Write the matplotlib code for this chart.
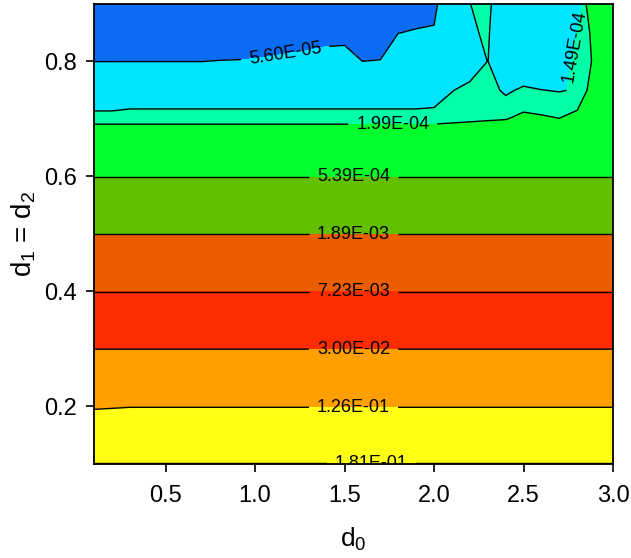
import numpy as np
import matplotlib
matplotlib.use("Agg")
import matplotlib.pyplot as plt

plt.rcParams['font.family'] = ['Liberation Sans', 'DejaVu Sans']
plt.rcParams['mathtext.fontset'] = 'custom'
plt.rcParams['mathtext.rm'] = 'Liberation Sans'
plt.rcParams['mathtext.it'] = 'Liberation Sans'
plt.rcParams['contour.negative_linestyle'] = 'solid'

# grid of the map
d0 = [0.1, 0.2, 0.3, 0.4, 0.5, 0.6, 0.7, 0.8, 0.9, 1.0,
      1.1, 1.2, 1.3, 1.4, 1.5, 1.6, 1.7, 1.8, 1.9, 2.0,
      2.1, 2.2, 2.3, 2.4, 2.5, 2.6, 2.7, 2.8, 2.9, 3.0]
d1 = [0.1, 0.2, 0.3, 0.4, 0.5, 0.6, 0.65, 0.7, 0.75, 0.8, 0.85, 0.9]

# log10 of the mapped value, one list per d1 row (columns follow d0)
r010 = [-0.741, -0.741, -0.741, -0.741, -0.741, -0.741, -0.741, -0.741, -0.741, -0.741,
        -0.741, -0.741, -0.741, -0.741, -0.741, -0.741, -0.741, -0.741, -0.741, -0.741,
        -0.741, -0.741, -0.741, -0.741, -0.741, -0.741, -0.741, -0.741, -0.741, -0.741]
r020 = [-0.908, -0.905, -0.902, -0.902, -0.902, -0.902, -0.902, -0.902, -0.902, -0.902,
        -0.902, -0.902, -0.902, -0.902, -0.902, -0.902, -0.902, -0.902, -0.902, -0.902,
        -0.902, -0.902, -0.902, -0.902, -0.902, -0.902, -0.902, -0.902, -0.902, -0.902]
r030 = [-1.525, -1.525, -1.525, -1.525, -1.525, -1.525, -1.525, -1.525, -1.525, -1.525,
        -1.525, -1.525, -1.525, -1.525, -1.525, -1.525, -1.525, -1.525, -1.525, -1.525,
        -1.525, -1.525, -1.525, -1.525, -1.525, -1.525, -1.525, -1.525, -1.525, -1.525]
r040 = [-2.143, -2.143, -2.143, -2.143, -2.143, -2.143, -2.143, -2.143, -2.143, -2.143,
        -2.143, -2.143, -2.143, -2.143, -2.143, -2.143, -2.143, -2.143, -2.143, -2.143,
        -2.143, -2.143, -2.143, -2.143, -2.143, -2.143, -2.143, -2.143, -2.143, -2.143]
r050 = [-2.726, -2.726, -2.726, -2.726, -2.726, -2.726, -2.726, -2.726, -2.726, -2.726,
        -2.726, -2.726, -2.726, -2.726, -2.726, -2.726, -2.726, -2.726, -2.726, -2.726,
        -2.726, -2.726, -2.726, -2.726, -2.726, -2.726, -2.726, -2.726, -2.726, -2.726]
r060 = [-3.270, -3.270, -3.270, -3.270, -3.270, -3.270, -3.270, -3.270, -3.270, -3.270,
        -3.270, -3.270, -3.270, -3.270, -3.270, -3.270, -3.270, -3.270, -3.270, -3.270,
        -3.270, -3.270, -3.270, -3.270, -3.270, -3.270, -3.270, -3.270, -3.270, -3.270]
r065 = [-3.480, -3.480, -3.480, -3.480, -3.480, -3.480, -3.480, -3.480, -3.480, -3.480,
        -3.480, -3.480, -3.480, -3.480, -3.480, -3.480, -3.480, -3.480, -3.480, -3.480,
        -3.480, -3.480, -3.480, -3.480, -3.480, -3.480, -3.480, -3.480, -3.480, -3.480]
r070 = [-3.750, -3.750, -3.750, -3.750, -3.750, -3.750, -3.750, -3.750, -3.750, -3.750,
        -3.750, -3.750, -3.750, -3.750, -3.750, -3.750, -3.750, -3.750, -3.750, -3.750,
        -3.737, -3.726, -3.715, -3.706, -3.670, -3.681, -3.698, -3.652, -3.550, -3.500]
r075 = [-4.025, -4.025, -3.970, -3.970, -3.970, -3.970, -3.970, -3.970, -3.970, -3.970,
        -3.970, -3.970, -3.970, -3.970, -3.970, -3.970, -3.970, -3.970, -3.970, -3.943,
        -3.833, -3.784, -3.770, -3.854, -3.800, -3.824, -3.835, -3.815, -3.608, -3.500]
r080 = [-4.253, -4.253, -4.253, -4.253, -4.253, -4.253, -4.253, -4.244, -4.239, -4.230,
        -4.203, -4.210, -4.187, -4.146, -4.127, -4.251, -4.239, -4.100, -4.050, -4.000,
        -4.000, -3.927, -3.824, -3.950, -3.993, -3.974, -3.900, -3.793, -3.678, -3.550]
r085 = [-4.450, -4.450, -4.450, -4.450, -4.450, -4.450, -4.450, -4.450, -4.450, -4.450,
        -4.450, -4.350, -4.350, -4.350, -4.350, -4.450, -4.450, -4.255, -4.236, -4.234,
        -4.000, -3.847, -3.807, -4.007, -4.000, -4.000, -3.900, -3.825, -3.648, -3.550]
r090 = [-4.650, -4.650, -4.650, -4.650, -4.650, -4.650, -4.650, -4.650, -4.650, -4.650,
        -4.650, -4.650, -4.650, -4.650, -4.650, -4.650, -4.650, -4.450, -4.352, -4.302,
        -4.052, -3.829, -3.780, -4.015, -4.000, -4.000, -3.950, -3.953, -3.450, -3.500]

levels = [5.60e-05, 1.49e-04, 1.99e-04, 5.39e-04, 1.89e-03,
          7.23e-03, 3.00e-02, 1.26e-01, 1.81e-01]
band_colors = ['#0A6CF2', '#00E5FF', '#00FFA6', '#00FF2C', '#62C000',
               '#EA5E00', '#FF2C00', '#FFA000', '#FFFF14', '#FFFF14']
label_pos = [(1.17, 0.812), (2.78, 0.826), (1.77, 0.69), (1.55, 0.6),
             (1.55, 0.5), (1.55, 0.4), (1.55, 0.3), (1.55, 0.2), (1.65, 0.1)]

logz = np.array([r010, r020, r030, r040, r050, r060, r065,
                 r070, r075, r080, r085, r090])
edges = np.log10(levels)
fill_edges = np.concatenate([[logz.min() - 1], edges, [logz.max() + 1]])

fig = plt.figure(figsize=(6.31, 5.58), dpi=100)
ax = fig.add_axes([0.149, 0.1685, 0.8225, 0.8244])

ax.contourf(d0, d1, logz, levels=fill_edges, colors=band_colors)
cs = ax.contour(d0, d1, logz, levels=edges, colors='black',
                linewidths=1.0, linestyles='solid')
ax.clabel(cs, fmt=lambda v: '%.2E' % (10 ** v), manual=label_pos,
          inline=True, inline_spacing=8, fontsize=13)

ax.set_xlim(0.1, 3.0)
ax.set_ylim(0.1, 0.9)
ax.set_xticks([0.5, 1.0, 1.5, 2.0, 2.5, 3.0])
ax.set_yticks([0.2, 0.4, 0.6, 0.8])
ax.tick_params(direction='out', length=6, width=1.2, labelsize=17)
ax.tick_params(axis='x', pad=9)
ax.tick_params(axis='y', pad=6)
for s in ax.spines.values():
    s.set_linewidth(1.3)

ax.set_xlabel(r'd$_\mathregular{0}$', fontsize=19, labelpad=14)
ax.set_ylabel(r'd$_\mathregular{1}$ = d$_\mathregular{2}$', fontsize=20, labelpad=5)

plt.savefig('out.png', dpi=100)
